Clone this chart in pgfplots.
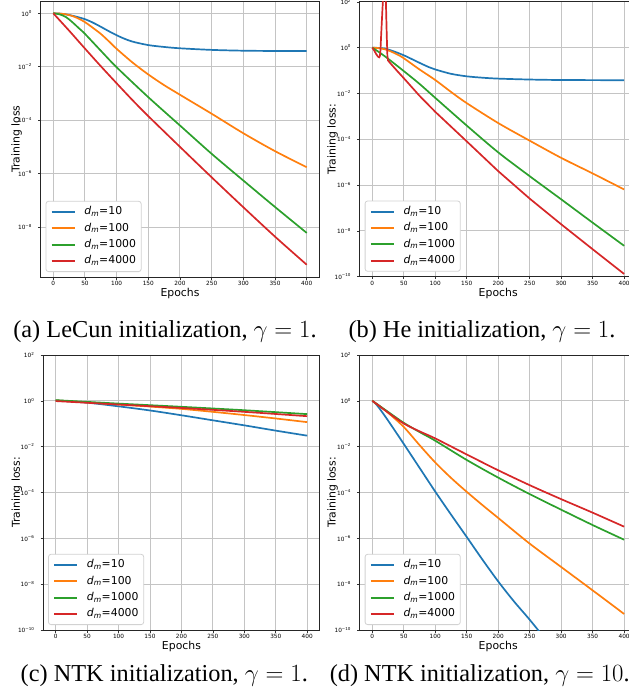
\documentclass[border=0pt]{standalone}
\usepackage{pgfplots}
\pgfplotsset{compat=1.18}
\usepackage{fontspec}
\setmainfont{DejaVu Sans}
\newfontfamily\capfont{Liberation Serif}
\definecolor{c0}{HTML}{1F77B4}
\definecolor{c1}{HTML}{FF7F0E}
\definecolor{c2}{HTML}{2CA02C}
\definecolor{c3}{HTML}{D62728}
\definecolor{gridc}{RGB}{196,196,196}
\newcommand\dm{\textit{d}\textsubscript{\textit{m}}}
\pgfplotsset{
  lossax/.style={
    scale only axis, xmin=-20, xmax=420,
    xtick={0,50,...,400},
    grid=major, major grid style={color=gridc, line width=1bp},
    tick align=outside, tick pos=left, major tick length=2.5bp,
    tick style={line width=0.6bp, black!80},
    /pgf/number format/assume math mode=true,
    ticklabel style={font=\fontsize{5.8}{6}\selectfont},
    xticklabel style={anchor=north, inner sep=0pt, yshift=-1.5bp},
    yticklabel style={anchor=east, inner sep=0pt, xshift=-6bp},
    axis line style={line width=1bp, black!85},
    xlabel=Epochs,
    label style={font=\fontsize{10.9}{12}\selectfont},
    xlabel style={at={(axis description cs:0.5,0)}, anchor=center, yshift=-16.3bp},
    legend cell align=left,
    legend image code/.code={\draw[#1, line width=2bp, opacity=1] (0bp,0bp) -- (23bp,0bp);},
    legend style={at={(0,0)}, anchor=south west, xshift=5bp, yshift=5bp,
      draw={rgb,255:red,210;green,210;blue,210}, line width=0.8bp, rounded corners=2.5bp,
      fill=white, text opacity=1,
      font=\fontsize{10.9}{12}\selectfont,
      inner xsep=4.7bp, inner ysep=4.8bp, row sep=4.5bp,
      nodes={inner sep=0.5bp, text height=8.2bp, text depth=2.6bp},
      cells={anchor=west},
      /tikz/every odd column/.append style={column sep=8.2bp}},
    every axis plot/.append style={line width=1.7bp, smooth, tension=0.5},
  },
  fullrange/.style={ymin=-10, ymax=2, ytick={-10,-8,...,2},
    yticklabels={10\textsuperscript{−10},10\textsuperscript{−8},10\textsuperscript{−6},10\textsuperscript{−4},10\textsuperscript{−2},10\textsuperscript{0},10\textsuperscript{2}}},
}
\begin{document}
\begin{tikzpicture}
\path[use as bounding box] (0,0) rectangle (629bp,-700bp);

% (a) LeCun
\begin{axis}[lossax, at={(40.6bp,-1bp)}, anchor=north west, width=278.8bp, height=276bp,
  ymin=-9.87, ymax=0.46, ytick={-8,-6,...,0},
  yticklabels={10\textsuperscript{−8},10\textsuperscript{−6},10\textsuperscript{−4},10\textsuperscript{−2},10\textsuperscript{0}},
  ylabel={Training loss},
  ylabel style={at={(axis description cs:-0.086,0.5)}, anchor=center}]
\addplot[c0] coordinates {(0,0) (10,-0.01) (20,-0.04) (30,-0.09) (40,-0.15) (50,-0.22) (60,-0.32) (70,-0.44) (80,-0.57) (90,-0.70) (100,-0.82) (110,-0.93) (125,-1.06) (150,-1.19) (175,-1.26) (200,-1.31) (250,-1.37) (300,-1.40) (350,-1.41) (400,-1.41)};
\addlegendentry{\dm=10}
\addplot[c1] coordinates {(0,0) (10,-0.01) (20,-0.04) (30,-0.10) (40,-0.20) (50,-0.33) (60,-0.50) (75,-0.77) (90,-1.10) (100,-1.33) (125,-1.84) (150,-2.29) (175,-2.69) (200,-3.05) (250,-3.76) (300,-4.49) (350,-5.16) (400,-5.76)};
\addlegendentry{\dm=100}
\addplot[c2] coordinates {(0,0) (10,-0.04) (20,-0.14) (30,-0.33) (40,-0.55) (50,-0.77) (75,-1.40) (100,-2.02) (150,-3.14) (200,-4.20) (250,-5.26) (300,-6.26) (350,-7.25) (400,-8.22)};
\addlegendentry{\dm=1000}
\addplot[c3] coordinates {(0,0) (25,-0.65) (50,-1.32) (75,-1.98) (100,-2.62) (125,-3.25) (150,-3.85) (200,-5.00) (250,-6.14) (300,-7.26) (350,-8.36) (400,-9.41)};
\addlegendentry{\dm=4000}
\end{axis}

% (b) He
\begin{axis}[lossax, fullrange, at={(359.7bp,-1.9bp)}, anchor=north west, width=277bp, height=274.8bp,
  ylabel={Training loss:},
  ylabel style={at={(axis description cs:-0.0975,0.5)}, anchor=center}]
\addplot[c0] coordinates {(0,0) (10,-0.01) (20,-0.04) (30,-0.12) (40,-0.22) (50,-0.33) (60,-0.46) (75,-0.66) (90,-0.85) (100,-0.95) (125,-1.14) (150,-1.25) (175,-1.31) (200,-1.35) (250,-1.39) (300,-1.41) (400,-1.42)};
\addlegendentry{\dm=10}
\addplot[c1] coordinates {(0,0) (10,-0.02) (20,-0.07) (30,-0.17) (40,-0.30) (50,-0.46) (75,-0.95) (100,-1.41) (125,-1.93) (150,-2.42) (200,-3.29) (250,-4.06) (300,-4.81) (350,-5.49) (400,-6.19)};
\addlegendentry{\dm=100}
\addplot[c2] coordinates {(0,0) (10,-0.18) (25,-0.48) (50,-1.02) (75,-1.58) (100,-2.19) (150,-3.40) (200,-4.57) (250,-5.61) (300,-6.62) (350,-7.64) (400,-8.65)};
\addlegendentry{\dm=1000}
\addplot[c3, sharp plot] coordinates {(0,0) (3,-0.12) (6,-0.27) (9,-0.39) (11,-0.42) (12,-0.38) (13,-0.10) (14,0.5) (16,1.6) (18,2.6) (19,3.0) (20,3.0) (21,2.6) (22,1.6) (23,0.5) (24,-0.35) (25,-0.56) (30,-0.72) (40,-1.03) (50,-1.33) (75,-2.10) (100,-2.80) (150,-4.09) (200,-5.39) (250,-6.59) (300,-7.71) (350,-8.80) (400,-9.88)};
\addlegendentry{\dm=4000}
\end{axis}

% (c) NTK gamma=1
\begin{axis}[lossax, fullrange, at={(43.1bp,-355bp)}, anchor=north west, width=276.7bp, height=275bp,
  ylabel={Training loss:},
  ylabel style={at={(axis description cs:-0.095,0.5)}, anchor=center}]
\addplot[c0] coordinates {(0,0.02) (50,-0.08) (100,-0.24) (150,-0.42) (200,-0.63) (250,-0.85) (300,-1.07) (350,-1.30) (400,-1.52)};
\addlegendentry{\dm=10}
\addplot[c1] coordinates {(0,0.02) (50,-0.07) (100,-0.16) (150,-0.25) (200,-0.35) (250,-0.48) (300,-0.62) (350,-0.77) (400,-0.93)};
\addlegendentry{\dm=100}
\addplot[c2] coordinates {(0,0.03) (100,-0.12) (200,-0.26) (300,-0.41) (400,-0.58)};
\addlegendentry{\dm=1000}
\addplot[c3] coordinates {(0,-0.01) (100,-0.16) (200,-0.31) (300,-0.48) (400,-0.67)};
\addlegendentry{\dm=4000}
\end{axis}

% (d) NTK gamma=10
\begin{axis}[lossax, fullrange, at={(359.7bp,-355bp)}, anchor=north west, width=277bp, height=275bp,
  ylabel={Training loss:},
  ylabel style={at={(axis description cs:-0.0975,0.5)}, anchor=center}]
\addplot[c0] coordinates {(0,0) (5,-0.12) (10,-0.28) (20,-0.66) (30,-1.06) (50,-1.88) (75,-2.92) (100,-3.96) (125,-4.96) (150,-5.94) (175,-6.93) (200,-7.88) (225,-8.75) (250,-9.55) (275,-10.4)};
\addlegendentry{\dm=10}
\addplot[c1] coordinates {(0,0) (10,-0.20) (25,-0.52) (50,-1.14) (75,-1.93) (100,-2.69) (125,-3.36) (150,-3.97) (175,-4.55) (200,-5.11) (250,-6.23) (300,-7.25) (350,-8.27) (400,-9.30)};
\addlegendentry{\dm=100}
\addplot[c2] coordinates {(0,0) (10,-0.19) (25,-0.48) (50,-0.96) (75,-1.36) (100,-1.74) (150,-2.58) (200,-3.35) (250,-4.07) (300,-4.75) (350,-5.42) (400,-6.06)};
\addlegendentry{\dm=1000}
\addplot[c3] coordinates {(0,0) (10,-0.20) (25,-0.51) (50,-0.99) (75,-1.33) (100,-1.64) (150,-2.34) (200,-3.03) (250,-3.68) (300,-4.29) (350,-4.88) (400,-5.49)};
\addlegendentry{\dm=4000}
\end{axis}

\begin{scope}[every node/.style={anchor=base, inner sep=0pt, font=\capfont\fontsize{24.4}{27}\selectfont}]
\node at (165bp,-337.3bp) {(a) LeCun initialization, $\gamma = 1$.};
\node at (482bp,-337.3bp) {(b) He initialization, $\gamma = 1$.};
\node at (164.3bp,-681.7bp) {(c) NTK initialization, $\gamma = 1$.};
\node at (479.7bp,-681.7bp) {(d) NTK initialization, $\gamma = 10$.};
\end{scope}
\end{tikzpicture}
\end{document}
